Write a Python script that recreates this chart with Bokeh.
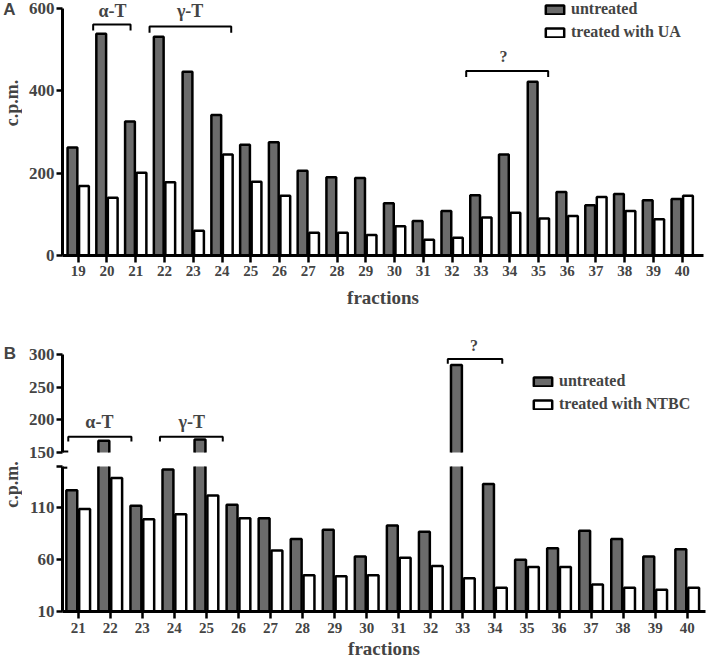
import math
from bokeh.plotting import figure
from bokeh.layouts import column, row
from bokeh.models import FixedTicker, Label, Legend, LegendItem, Range1d, ColumnDataSource
from bokeh.transform import dodge
from bokeh.embed import file_html
from bokeh.resources import INLINE

# ---------------- data ----------------
# Panel A
fractions_a = list(range(19, 41))
untreated_a = [262, 538, 325, 531, 446, 341, 269, 275, 206, 190, 188, 127,
               84, 108, 146, 245, 422, 154, 122, 149, 134, 137]
treated_ua = [169, 140, 201, 178, 60, 245, 179, 145, 55, 55, 50, 71,
              38, 43, 92, 104, 90, 96, 142, 108, 88, 145]
yticks_a = [0, 200, 400, 600]

# Panel B
fractions_b = list(range(21, 41))
untreated_b = [127, 168, 112, 147, 170, 113, 100, 80, 89, 63,
               93, 87, 284, 133, 60, 71, 88, 80, 63, 70]
treated_ntbc = [109, 139, 99, 104, 122, 100, 69, 45, 44, 45,
                62, 54, 42, 33, 53, 53, 36, 33, 31, 33]
yticks_b_upper = [150, 200, 250, 300]
yticks_b_lower = [10, 60, 110, 150]
base_b = 10

# bracket annotations: (label, start fraction, end fraction, level)
brackets_a = [("α-T", 19.52, 20.82, 561), ("γ-T", 21.48, 24.32, 556), ("?", 32.49, 35.34, 448)]
brackets_b = [("α-T", 20.69, 22.66, 174), ("γ-T", 23.55, 25.51, 174), ("?", 32.53, 34.23, 293)]

FONT = "Liberation Serif"
SANS = "Liberation Sans"
GREY = "#6b6b6b"
STRIP = 22
MAIN_W = 684
OFF = 0.2      # half distance between the two bars of a fraction
BW = 0.34      # bar width
LW = 2.5


def style_fig(p):
    p.xgrid.visible = False
    p.ygrid.visible = False
    p.outline_line_color = None
    p.background_fill_color = "white"
    p.border_fill_color = "white"


def make_fig(height, xr, yr, top, bottom, right, xaxis=True, tick_standoff=3, label_standoff=8):
    p = figure(width=MAIN_W, height=height, x_range=Range1d(*xr), y_range=Range1d(*yr),
               output_backend="svg", toolbar_location=None, tools="",
               min_border_left=40, min_border_right=right,
               min_border_top=top, min_border_bottom=bottom,
               x_axis_location="below" if xaxis else None)
    style_fig(p)
    for ax in p.yaxis:
        ax.axis_line_width = 3
        ax.major_tick_line_width = 2.5
        ax.major_tick_out = 6
        ax.major_tick_in = 0
        ax.minor_tick_line_color = None
        ax.major_label_text_font = FONT
        ax.major_label_text_font_style = "bold"
        ax.major_label_text_font_size = "17px"
        ax.major_label_standoff = 2
    if xaxis:
        ax = p.xaxis[0]
        ax.axis_line_width = 3
        ax.major_tick_line_width = 2.5
        ax.major_tick_out = 7
        ax.major_tick_in = 0
        ax.minor_tick_line_color = None
        ax.major_label_text_font = FONT
        ax.major_label_text_font_style = "bold"
        ax.major_label_text_font_size = "15px"
        ax.major_label_standoff = tick_standoff
        ax.axis_label = "fractions"
        ax.axis_label_text_font = FONT
        ax.axis_label_text_font_style = "bold"
        ax.axis_label_text_font_size = "19px"
        ax.axis_label_standoff = label_standoff
    return p


def make_strip(height):
    s = figure(width=STRIP, height=height, x_range=Range1d(0, STRIP), y_range=Range1d(height, 0),
               output_backend="svg", toolbar_location=None, tools="", min_border=0,
               x_axis_location=None, y_axis_location=None)
    style_fig(s)
    return s


def add_text(p, x, y, text, size, font=FONT, angle=0.0):
    p.add_layout(Label(x=x, y=y, text=text, text_font=font, text_font_style="bold",
                       text_font_size=size, text_align="center", text_baseline="middle",
                       angle=angle))


def draw_brackets(p, brackets, drop):
    xs, ys = [], []
    for _, x0, x1, lvl in brackets:
        xs.append([x0, x0, x1, x1])
        ys.append([lvl - drop, lvl, lvl, lvl - drop])
    p.multi_line(xs=xs, ys=ys, line_color="black", line_width=2)


def add_legend(p, r1, r2, label2, loc):
    lg = Legend(items=[LegendItem(label="untreated", renderers=[r1]),
                       LegendItem(label=label2, renderers=[r2])],
                location=loc, orientation="vertical", glyph_width=23, glyph_height=11,
                label_height=18, label_standoff=5, spacing=5, padding=0, margin=0,
                border_line_color=None, background_fill_alpha=0,
                label_text_font=FONT, label_text_font_style="bold",
                label_text_font_size="16px")
    p.add_layout(lg)


def draw_rect_bars(p, src):
    """bars as centred rects, so the frame clip cuts them cleanly at the axis break"""
    r1 = p.rect(x=dodge("x", -OFF), y="ya", width=BW, height="ha", source=src,
                fill_color=GREY, line_color="black", line_width=LW)
    r2 = p.rect(x=dodge("x", OFF), y="yb", width=BW, height="hb", source=src,
                fill_color="white", line_color="black", line_width=LW)
    return r1, r2


# ---------------- panel A ----------------
pa = make_fig(311, (18.454, 40.74), (0, 619), top=0, bottom=56, right=3,
              tick_standoff=3, label_standoff=8)
pa.yaxis.ticker = FixedTicker(ticks=yticks_a)
pa.yaxis.bounds = (0, 600)
pa.xaxis.ticker = FixedTicker(ticks=fractions_a)
src_a = ColumnDataSource(dict(x=fractions_a, a=untreated_a, b=treated_ua))
ra1 = pa.vbar(x=dodge("x", -OFF), top="a", bottom=0, width=BW, source=src_a,
              fill_color=GREY, line_color="black", line_width=LW)
ra2 = pa.vbar(x=dodge("x", OFF), top="b", bottom=0, width=BW, source=src_a,
              fill_color="white", line_color="black", line_width=LW)
draw_brackets(pa, brackets_a, 15)
add_text(pa, 20.19, 594, brackets_a[0][0], "18px")
add_text(pa, 22.89, 594, brackets_a[1][0], "18px")
add_text(pa, 33.79, 482, brackets_a[2][0], "16px")
add_legend(pa, ra1, ra2, "treated with UA", (481, 214))

sa = make_strip(311)
add_text(sa, 9, 11, "A", "17px", font=SANS)
add_text(sa, 11, 125, "c.p.m.", "18px", angle=math.pi / 2)

# ---------------- panel B (broken axis) ----------------
xr_b = (20.51, 40.57)
src_b = ColumnDataSource(dict(
    x=fractions_b,
    ya=[(v + base_b) / 2 for v in untreated_b], ha=[v - base_b for v in untreated_b],
    yb=[(v + base_b) / 2 for v in treated_ntbc], hb=[v - base_b for v in treated_ntbc],
))

pbu = make_fig(151, xr_b, (150, 326), top=26, bottom=10, right=1, xaxis=False)
pbu.yaxis.ticker = FixedTicker(ticks=yticks_b_upper)
pbu.yaxis.bounds = (150, 300)
rb1, rb2 = draw_rect_bars(pbu, src_b)
draw_brackets(pbu, brackets_b, 7)
add_text(pbu, 21.66, 196, brackets_b[0][0], "18px")
add_text(pbu, 24.54, 197, brackets_b[1][0], "18px")
add_text(pbu, 33.35, 313, brackets_b[2][0], "16px")
add_legend(pbu, rb1, rb2, "treated with NTBC", (469, 39))
pbu.segment(x0=[xr_b[0]], y0=[151], x1=[xr_b[0] + 0.18], y1=[151], line_color="black", line_width=2.5)

pbl = make_fig(201, xr_b, (10, 150), top=4, bottom=52, right=1,
               tick_standoff=4, label_standoff=2)
pbl.yaxis.ticker = FixedTicker(ticks=yticks_b_lower)
pbl.yaxis.major_label_overrides = {150: ""}
pbl.xaxis.ticker = FixedTicker(ticks=fractions_b)
draw_rect_bars(pbl, src_b)
pbl.segment(x0=[xr_b[0]], y0=[149], x1=[xr_b[0] + 0.15], y1=[149], line_color="black", line_width=2.5)

sb = make_strip(151 + 201)
add_text(sb, 9.5, 41.5, "B", "17px", font=SANS)
add_text(sb, 11, 173, "c.p.m.", "18px", angle=math.pi / 2)

layout = column(row(sa, pa, spacing=0),
                row(sb, column(pbu, pbl, spacing=0), spacing=0),
                spacing=0)
open("out.html", "w").write(file_html(layout, INLINE))
